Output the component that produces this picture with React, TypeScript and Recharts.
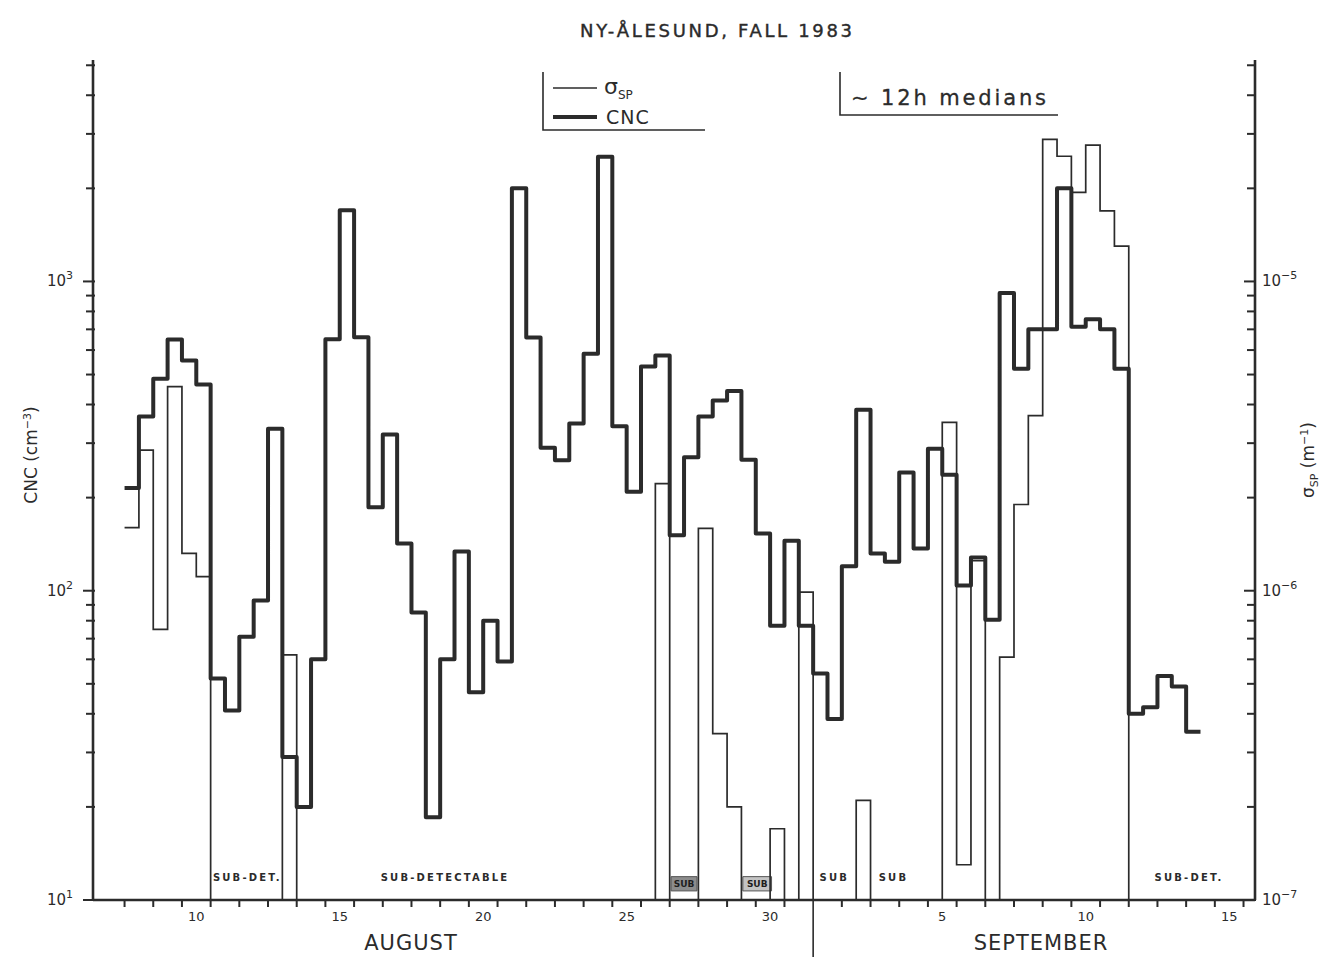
import { LineChart, Line, XAxis, YAxis, ReferenceArea, ReferenceLine } from "recharts";

const INK = "#2b2b2b";
const FONT = "'DejaVu Sans', 'Liberation Sans', sans-serif";

// 12 h medians from Aug 7 12:00; September days keep counting after Aug 31 (Sep 5 = 36)
const START_DAY = 7.5;
const STEP_DAYS = 0.5;

const cncValues = [
  215, 366, 485, 649, 555, 464,
  52, 41, 71, 93, 334, 29, 20, 60,
  650, 1700, 660, 186, 320, 142, 85, 18.5, 60, 134, 47, 80, 59,
  2000, 659, 290, 264, 347, 584, 2530, 340, 209, 531, 576, 151, 270, 366, 412, 442, 265, 153, 77, 145, 77,
  54, 38.5, 120, 385, 132, 124, 241, 137, 288, 237, 104, 128, 80.5, 918, 522, 700, 700, 2000, 714, 755, 700, 522,
  40, 42, 53, 49, 35,
];

// sub-detectable periods sit on the lower limit of the sigma axis
const SUB = 1e-7;
const sigmaValues = [
  1.6e-6, 2.85e-6, 7.5e-7, 4.57e-6, 1.32e-6, 1.11e-6,
  SUB, SUB, SUB, SUB, SUB,
  6.2e-7,
  SUB, SUB, SUB, SUB, SUB, SUB, SUB, SUB, SUB, SUB, SUB, SUB, SUB,
  SUB, SUB, SUB, SUB, SUB, SUB, SUB, SUB, SUB, SUB, SUB, SUB,
  2.22e-6, SUB, SUB, 1.59e-6, 3.45e-7, 2.0e-7, SUB, SUB, 1.7e-7, SUB, 9.9e-7,
  SUB, SUB, SUB, 2.1e-7, SUB, SUB, SUB, SUB, SUB,
  3.5e-6, 1.3e-7, 1.25e-6, SUB, 6.1e-7, 1.9e-6, 3.68e-6,
  2.88e-5, 2.54e-5, 1.94e-5, 2.76e-5, 1.69e-5, 1.3e-5,
  SUB, SUB, SUB, SUB, SUB,
];

const dayTicks = Array.from({ length: 40 }, (_, i) => 7.5 + i);
const dayLabelTicks = [10, 15, 20, 25, 30, 36, 41, 46];
const dayLabels = ["10", "15", "20", "25", "30", "5", "10", "15"];
const MONTH_DIVIDER = 31.5;

const cncTicks = [10, 20, 30, 40, 50, 60, 70, 80, 90, 100, 200, 300, 400, 500, 600, 700, 800, 900, 1000, 2000, 3000, 4000, 5000];
const sigmaTicks = [
  1e-7, 2e-7, 3e-7, 4e-7, 5e-7, 6e-7, 7e-7, 8e-7, 9e-7,
  1e-6, 2e-6, 3e-6, 4e-6, 5e-6, 6e-6, 7e-6, 8e-6, 9e-6,
  1e-5, 2e-5, 3e-5, 4e-5, 5e-5,
];

const subLabelText = ["SUB-DET.", "SUB-DETECTABLE", "SUB", "SUB", "SUB-DET."];
const subLabelDay = [11.78, 18.67, 32.24, 34.3, 44.6];
// the two shaded "SUB" boxes
const subBoxFrom = [26.55, 29.05];
const subBoxTo = [27.45, 30.05];
const subBoxFill = ["#8c8c8c", "#c4c4c4"];

const rows = cncValues.map((v, i) => ({ t: START_DAY + i * STEP_DAYS, cnc: v, sigma: sigmaValues[i] }));
rows.push({
  t: START_DAY + cncValues.length * STEP_DAYS,
  cnc: cncValues[cncValues.length - 1],
  sigma: sigmaValues[sigmaValues.length - 1],
});

const isDecade = (v: number) => Math.abs(Math.log10(v) - Math.round(Math.log10(v))) < 1e-9;

function CncTick({ x, y, payload }: any) {
  const v = payload.value;
  const major = isDecade(v);
  return (
    <g>
      <line x1={x + 2} x2={x - (major ? 10 : 7)} y1={y} y2={y} stroke={INK} strokeWidth={2} />
      {major && (
        <text x={x - 20} y={y + 5} textAnchor="end" fontSize={15} fill={INK} fontFamily={FONT}>
          10<tspan dy={-7} fontSize={11}>{Math.round(Math.log10(v))}</tspan>
        </text>
      )}
    </g>
  );
}

function SigmaTick({ x, y, payload }: any) {
  const v = payload.value;
  const major = isDecade(v);
  return (
    <g>
      <line x1={x - 2 - (major ? 9 : 6)} x2={x + 1} y1={y} y2={y} stroke={INK} strokeWidth={2} />
      {major && (
        <text x={x + 7} y={y + 5} fontSize={15} fill={INK} fontFamily={FONT}>
          10<tspan dy={-7} fontSize={11}>{"\u2212" + Math.abs(Math.round(Math.log10(v)))}</tspan>
        </text>
      )}
    </g>
  );
}

function DayTick({ x, y, payload }: any) {
  const v = payload.value;
  const li = dayLabelTicks.indexOf(v);
  if (li >= 0) {
    return (
      <text x={x} y={y + 21} textAnchor="middle" fontSize={13} fill={INK} fontFamily={FONT}>
        {dayLabels[li]}
      </text>
    );
  }
  return (
    <line
      x1={x}
      x2={x}
      y1={y - 1}
      y2={v === MONTH_DIVIDER ? y + 57 : y + 7}
      stroke={INK}
      strokeWidth={v === MONTH_DIVIDER ? 1.6 : 2}
    />
  );
}

const subLabel = (text: string) => (props: any) => {
  const vb = props.viewBox || { x: 0, y: 0, width: 0, height: 0 };
  return (
    <text
      x={vb.x + (vb.width || 0) / 2}
      y={vb.y + vb.height - 19}
      textAnchor="middle"
      fontSize={10}
      fontWeight={700}
      letterSpacing={2.2}
      fill={INK}
      fontFamily={FONT}
    >
      {text}
    </text>
  );
};

const boxLabel = (props: any) => {
  const vb = props.viewBox || { x: 0, y: 0, width: 0, height: 0 };
  return (
    <text
      x={vb.x + vb.width / 2}
      y={vb.y + vb.height / 2 + 3.5}
      textAnchor="middle"
      fontSize={9}
      fontWeight={700}
      fill="#1e1e1e"
      fontFamily={FONT}
    >
      SUB
    </text>
  );
};

export default function App() {
  return (
    <div style={{ position: "relative", width: 1328, height: 957, background: "#fff" }}>
      <style>{"body{margin:0;overflow:hidden;background:#fff}"}</style>
      <LineChart width={1328} height={957} data={rows} margin={{ top: 60, right: 0, bottom: 0, left: 0 }}>
        <XAxis
          dataKey="t"
          type="number"
          domain={[6.4, 46.9]}
          allowDataOverflow
          ticks={[...dayTicks, ...dayLabelTicks]}
          interval={0}
          tick={DayTick}
          tickLine={false}
          tickSize={0}
          tickMargin={0}
          height={57}
          axisLine={{ stroke: INK, strokeWidth: 2.6 }}
        />
        <XAxis
          xAxisId="top"
          orientation="top"
          dataKey="t"
          type="number"
          domain={[6.4, 46.9]}
          allowDataOverflow
          height={0}
          tick={false}
          tickLine={false}
          axisLine={{ stroke: INK, strokeWidth: 2.6 }}
        />
        <YAxis
          yAxisId="cnc"
          scale="log"
          domain={[10, 5200]}
          allowDataOverflow
          ticks={cncTicks}
          interval={0}
          tick={CncTick}
          tickLine={false}
          tickSize={0}
          tickMargin={0}
          width={93}
          axisLine={{ stroke: INK, strokeWidth: 2.6 }}
        />
        <YAxis
          yAxisId="sigma"
          orientation="right"
          scale="log"
          domain={[1e-7, 5.2e-5]}
          allowDataOverflow
          ticks={sigmaTicks}
          interval={0}
          tick={SigmaTick}
          tickLine={false}
          tickSize={0}
          tickMargin={0}
          width={73}
          axisLine={{ stroke: INK, strokeWidth: 2.6 }}
        />
        {subBoxFrom.map((x1, i) => (
          <ReferenceArea
            key={"box" + i}
            yAxisId="cnc"
            x1={x1}
            x2={subBoxTo[i]}
            y1={10.7}
            y2={11.9}
            fill={subBoxFill[i]}
            fillOpacity={1}
            stroke="#555"
            strokeWidth={1}
            label={boxLabel}
          />
        ))}
        {subLabelText.map((text, i) => (
          <ReferenceLine key={"sub" + i} yAxisId="cnc" x={subLabelDay[i]} stroke="none" label={subLabel(text)} />
        ))}
        <Line
          yAxisId="sigma"
          dataKey="sigma"
          type="stepAfter"
          stroke={INK}
          strokeWidth={1.7}
          dot={false}
          activeDot={false}
          isAnimationActive={false}
        />
        <Line
          yAxisId="cnc"
          dataKey="cnc"
          type="stepAfter"
          stroke={INK}
          strokeWidth={4}
          strokeLinejoin="round"
          dot={false}
          activeDot={false}
          isAnimationActive={false}
        />
      </LineChart>

      <svg
        width={1328}
        height={957}
        style={{ position: "absolute", left: 0, top: 0, pointerEvents: "none" }}
        fontFamily={FONT}
        fill={INK}
      >
        <text
          x={716}
          y={37}
          textAnchor="middle"
          fontSize={18}
          stroke={INK}
          strokeWidth={0.4}
          textLength={272}
          lengthAdjust="spacing"
        >
          NY-ÅLESUND, FALL 1983
        </text>

        {/* series key */}
        <polyline points="543,72 543,130 705,130" fill="none" stroke={INK} strokeWidth={1.6} />
        <line x1={553} x2={597} y1={88} y2={88} stroke={INK} strokeWidth={1.7} />
        <text x={604} y={94} fontSize={22}>
          σ<tspan fontSize={12} dy={5}>SP</tspan>
        </text>
        <line x1={553} x2={597} y1={117} y2={117} stroke={INK} strokeWidth={4} />
        <text x={606} y={124} fontSize={19} letterSpacing={1}>
          CNC
        </text>

        <polyline points="840,72 840,115 1058,115" fill="none" stroke={INK} strokeWidth={1.6} />
        <text x={851} y={105} fontSize={21} stroke={INK} strokeWidth={0.3} textLength={195} lengthAdjust="spacing">
          ∼ 12h medians
        </text>

        {/* axis titles */}
        <text transform="translate(37,455) rotate(-90)" textAnchor="middle" fontSize={17}>
          CNC (cm<tspan dy={-6} fontSize={11}>−3</tspan>
          <tspan dy={6}>)</tspan>
        </text>
        <text transform="translate(1314,460) rotate(-90)" textAnchor="middle" fontSize={17}>
          σ<tspan fontSize={11} dy={4}>SP</tspan>
          <tspan dy={-4}> (m</tspan>
          <tspan dy={-6} fontSize={11}>−1</tspan>
          <tspan dy={6}>)</tspan>
        </text>

        <text x={411} y={950} textAnchor="middle" fontSize={21} letterSpacing={1}>
          AUGUST
        </text>
        <text x={1041} y={950} textAnchor="middle" fontSize={21} letterSpacing={1}>
          SEPTEMBER
        </text>
      </svg>
    </div>
  );
}
